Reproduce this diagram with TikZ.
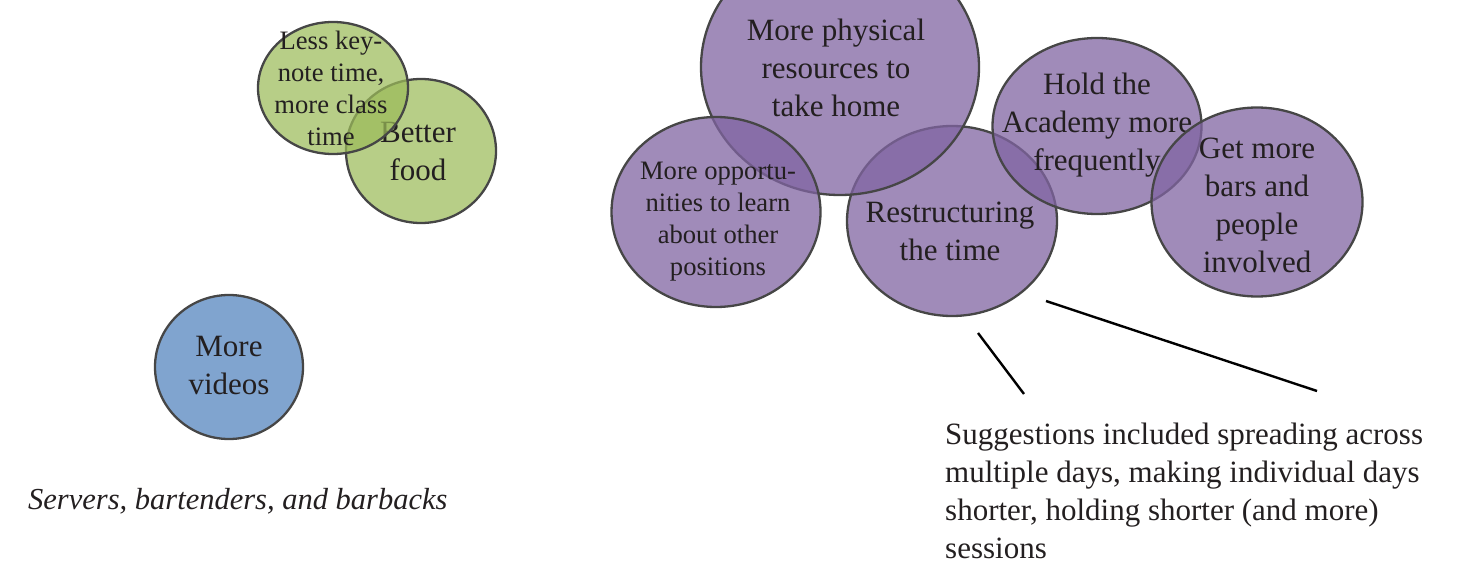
\documentclass[tikz,border=0pt]{standalone}
\usepackage{fontspec}
\setmainfont{Liberation Serif}
\usetikzlibrary{shapes.geometric}
\definecolor{gfill}{RGB}{155,187,89}
\definecolor{bfill}{RGB}{79,129,189}
\definecolor{pfill}{RGB}{128,100,162}
\definecolor{edge}{RGB}{70,70,70}
\definecolor{ink}{RGB}{35,31,32}
\tikzset{
  blob/.style={ellipse, draw=edge, line width=2.3pt, fill opacity=0.72, inner sep=0pt},
  gblob/.style={blob, fill=gfill},
  bblob/.style={blob, fill=bfill},
  pblob/.style={blob, fill=pfill, fill opacity=0.75},
  bigtxt/.style={text=ink, align=center, inner sep=0pt, font=\fontsize{31}{38}\selectfont,
    execute at begin node=\strut, execute at end node=\strut},
  smalltxt/.style={text=ink, align=center, inner sep=0pt, font=\fontsize{26.6}{32}\selectfont,
    execute at begin node=\strut, execute at end node=\strut},
  leader/.style={draw=black, line width=2.4pt}
}
\begin{document}
\begin{tikzpicture}[x=1pt,y=-1pt]
\useasboundingbox (0,0) rectangle (1463,564);
% green group
\node[gblob, minimum width=150pt, minimum height=144pt] (food) at (421,151) {};
\node[bigtxt] (foodt) at (418,157) {Better\\food};
\node[gblob, minimum width=150pt, minimum height=132pt] (keynote) at (333,88) {};
\node[smalltxt] (keynotet) at (331,93) {Less key-\\note time,\\more class\\time};
% blue
\node[bblob, minimum width=148pt, minimum height=144pt] (videos) at (229,367) {};
\node[bigtxt] (videost) at (229,371) {More\\videos};
\node[anchor=base west, inner sep=0pt, text=ink, font=\fontsize{30.5}{38}\selectfont\itshape] (servers) at (28,509) {Servers, bartenders, and barbacks};
% purple group
\node[pblob, minimum width=210pt, minimum height=190pt] (restr) at (952,221) {};
\node[bigtxt] (restrt) at (950,237) {Restructuring\\the time};
\node[pblob, minimum width=278pt, minimum height=256pt] (phys) at (840,67) {};
\node[bigtxt] (physt) at (836,73) {More physical\\resources to\\take home};
\node[pblob, minimum width=209pt, minimum height=190pt] (opp) at (716,212) {};
\node[smalltxt] (oppt) at (718,223.5) {More opportu-\\nities to learn\\about other\\positions};
\node[pblob, minimum width=209pt, minimum height=176pt] (hold) at (1097,126) {};
\node[bigtxt] (holdt) at (1097,127) {Hold the\\Academy more\\frequently};
\node[pblob, minimum width=211pt, minimum height=189pt] (bars) at (1257,202) {};
\node[bigtxt] (barst) at (1257,211) {Get more\\bars and\\people\\involved};
% note
\node[anchor=base west, inner sep=0pt, text=ink, align=left, font=\fontsize{31}{38}\selectfont] (note) at (945,558.5) {Suggestions included spreading across\\multiple days, making individual days\\shorter, holding shorter (and more)\\sessions};
\coordinate (l1a) at (978,333);
\coordinate (l1b) at (1024,394);
\coordinate (l2a) at (1046,301);
\coordinate (l2b) at (1317,391);
\draw[leader] (l1a) -- (l1b);
\draw[leader] (l2a) -- (l2b);
\end{tikzpicture}
\end{document}
